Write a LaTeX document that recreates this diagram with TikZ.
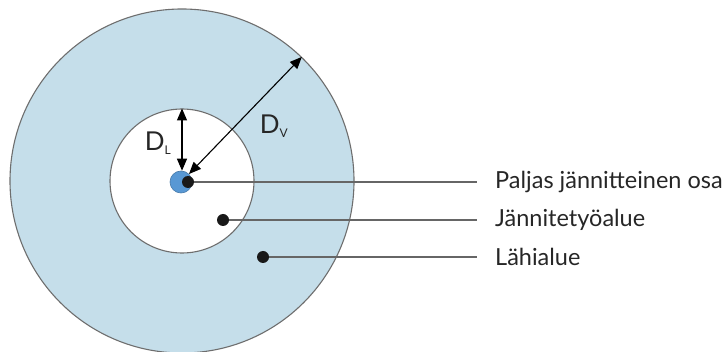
\documentclass[tikz,border=0pt]{standalone}
\usepackage{fontspec}
\setmainfont{Lato}
\usetikzlibrary{arrows.meta, positioning}

\definecolor{zoneblue}{RGB}{197,222,234}
\definecolor{liveblue}{RGB}{88,152,212}
\definecolor{rimgray}{RGB}{110,110,110}

\begin{document}
\begin{tikzpicture}[x=1pt, y=-1pt,
    zone/.style={circle, draw=rimgray, line width=1.1pt, inner sep=0pt},
    dot/.style={circle, fill=black!90, inner sep=0pt, minimum size=12pt},
    leader/.style={draw=black!60, line width=1.1pt},
    label/.style={anchor=west, font=\fontsize{23.5}{25}\selectfont, inner sep=0pt, text=black!85},
    dimarrow/.style={draw, line width=1.1pt, {Triangle[length=12pt,width=10pt]}-{Triangle[length=12pt,width=10pt]}},
    dimtext/.style={font=\fontsize{26}{28}\selectfont, inner sep=0pt, text=black!85}
]
    \useasboundingbox (0,0) rectangle (728,352);

    % zones
    \node[zone, fill=zoneblue, minimum size=344pt] (outer) at (182,181) {};
    \node[zone, fill=white, minimum size=144pt] (inner) at (182,181) {};
    \node[circle, fill=liveblue, draw=liveblue!80!black, line width=0.6pt, inner sep=0pt, minimum size=22pt] (live) at (181,182) {};

    % marker dots
    \node[dot] (d1) at (188,182) {};
    \node[dot] (d2) at (223,220) {};
    \node[dot] (d3) at (263,257) {};

    % labels
    \node[label] (t1) at (495,182) {Paljas jännitteinen osa};
    \node[label] (t2) at (495,220) {Jännitetyöalue};
    \node[label] (t3) at (495,257) {Lähialue};

    \draw[leader] (d1) -- ([xshift=-18pt]t1.west);
    \draw[leader] (d2) -- ([xshift=-18pt]t2.west);
    \draw[leader] (d3) -- ([xshift=-18pt]t3.west);

    % distances
    \draw[dimarrow] (inner.north) -- (live.north -| inner.north);
    \draw[dimarrow] (live.45) -- (outer.46);
    \node[dimtext] (dl) at (158,143) {D\textsubscript{\fontsize{12}{13}\selectfont L}};
    \node[dimtext] (dv) at (274,126) {D\textsubscript{\fontsize{12}{13}\selectfont V}};
\end{tikzpicture}
\end{document}
